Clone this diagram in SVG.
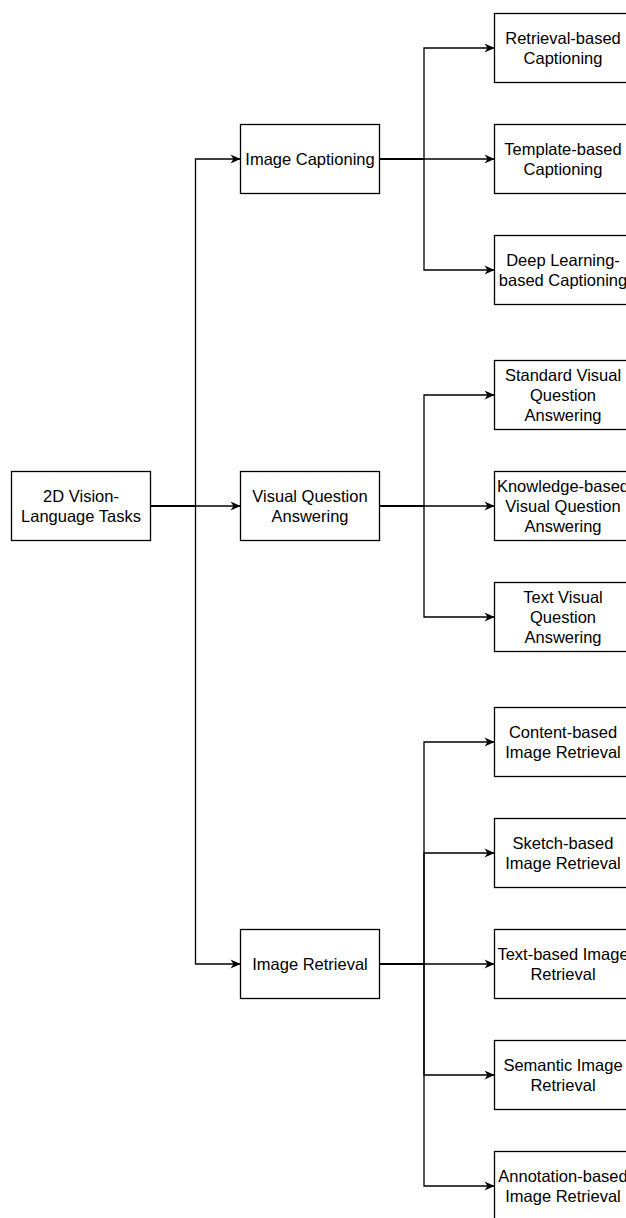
<svg xmlns="http://www.w3.org/2000/svg" width="626" height="1218" viewBox="0 0 626 1218">
<style>
.box{fill:#fff;stroke:#000;stroke-width:1.3}
.t{font-family:"Liberation Sans",Arial,sans-serif;font-size:16.5px;fill:#000;text-anchor:middle}
.e{fill:none;stroke:#000;stroke-width:1.3}
</style>
<defs>
<marker id="arr" viewBox="-11 -5 12 10" refX="0" refY="0" markerWidth="12" markerHeight="10" markerUnits="userSpaceOnUse" orient="auto">
<path d="M0,0 L-10,-4.5 L-7,0 L-10,4.5 Z" fill="#000"/>
</marker>
</defs>
<rect width="626" height="1218" fill="#fff"/>
<g id="connectors">
<path class="e" d="M151,506 H240.5" marker-end="url(#arr)"/>
<path class="e" d="M151,506 H195.5 V159 H240.5" marker-end="url(#arr)"/>
<path class="e" d="M151,506 H195.5 V964 H240.5" marker-end="url(#arr)"/>
<path class="e" d="M380,159 H424 V48 H494.5" marker-end="url(#arr)"/>
<path class="e" d="M380,159 H494.5" marker-end="url(#arr)"/>
<path class="e" d="M380,159 H424 V270 H494.5" marker-end="url(#arr)"/>
<path class="e" d="M380,506 H424 V395 H494.5" marker-end="url(#arr)"/>
<path class="e" d="M380,506 H494.5" marker-end="url(#arr)"/>
<path class="e" d="M380,506 H424 V617 H494.5" marker-end="url(#arr)"/>
<path class="e" d="M380,964 H424 V742 H494.5" marker-end="url(#arr)"/>
<path class="e" d="M380,964 H424 V853 H494.5" marker-end="url(#arr)"/>
<path class="e" d="M380,964 H494.5" marker-end="url(#arr)"/>
<path class="e" d="M380,964 H424 V1075 H494.5" marker-end="url(#arr)"/>
<path class="e" d="M380,964 H424 V1186 H494.5" marker-end="url(#arr)"/>
</g>
<g id="root"><rect class="box" x="11.5" y="471.5" width="139" height="69"/><text class="t" x="81" y="502">2D Vision-</text><text class="t" x="81" y="522">Language Tasks</text></g>
<g id="captioning"><rect class="box" x="240.5" y="124.5" width="139" height="69"/><text class="t" x="310" y="165">Image Captioning</text></g>
<g id="vqa"><rect class="box" x="240.5" y="471.5" width="139" height="69"/><text class="t" x="310" y="502">Visual Question</text><text class="t" x="310" y="522">Answering</text></g>
<g id="retrieval"><rect class="box" x="240.5" y="929.5" width="139" height="69"/><text class="t" x="310" y="970">Image Retrieval</text></g>
<g id="cap1"><rect class="box" x="494.5" y="13.5" width="139" height="69"/><text class="t" x="563" y="44">Retrieval-based</text><text class="t" x="563" y="64">Captioning</text></g>
<g id="cap2"><rect class="box" x="494.5" y="124.5" width="139" height="69"/><text class="t" x="563" y="155">Template-based</text><text class="t" x="563" y="175">Captioning</text></g>
<g id="cap3"><rect class="box" x="494.5" y="235.5" width="139" height="69"/><text class="t" x="563" y="266">Deep Learning-</text><text class="t" x="563" y="286">based Captioning</text></g>
<g id="vqa1"><rect class="box" x="494.5" y="360.5" width="139" height="69"/><text class="t" x="563" y="381">Standard Visual</text><text class="t" x="563" y="401">Question</text><text class="t" x="563" y="421">Answering</text></g>
<g id="vqa2"><rect class="box" x="494.5" y="471.5" width="139" height="69"/><text class="t" x="563" y="492">Knowledge-based</text><text class="t" x="563" y="512">Visual Question</text><text class="t" x="563" y="532">Answering</text></g>
<g id="vqa3"><rect class="box" x="494.5" y="582.5" width="139" height="69"/><text class="t" x="563" y="603">Text Visual</text><text class="t" x="563" y="623">Question</text><text class="t" x="563" y="643">Answering</text></g>
<g id="ir1"><rect class="box" x="494.5" y="707.5" width="139" height="69"/><text class="t" x="563" y="738">Content-based</text><text class="t" x="563" y="758">Image Retrieval</text></g>
<g id="ir2"><rect class="box" x="494.5" y="818.5" width="139" height="69"/><text class="t" x="563" y="849">Sketch-based</text><text class="t" x="563" y="869">Image Retrieval</text></g>
<g id="ir3"><rect class="box" x="494.5" y="929.5" width="139" height="69"/><text class="t" x="563" y="960">Text-based Image</text><text class="t" x="563" y="980">Retrieval</text></g>
<g id="ir4"><rect class="box" x="494.5" y="1040.5" width="139" height="69"/><text class="t" x="563" y="1071">Semantic Image</text><text class="t" x="563" y="1091">Retrieval</text></g>
<g id="ir5"><rect class="box" x="494.5" y="1151.5" width="139" height="69"/><text class="t" x="563" y="1182">Annotation-based</text><text class="t" x="563" y="1202">Image Retrieval</text></g>
</svg>
